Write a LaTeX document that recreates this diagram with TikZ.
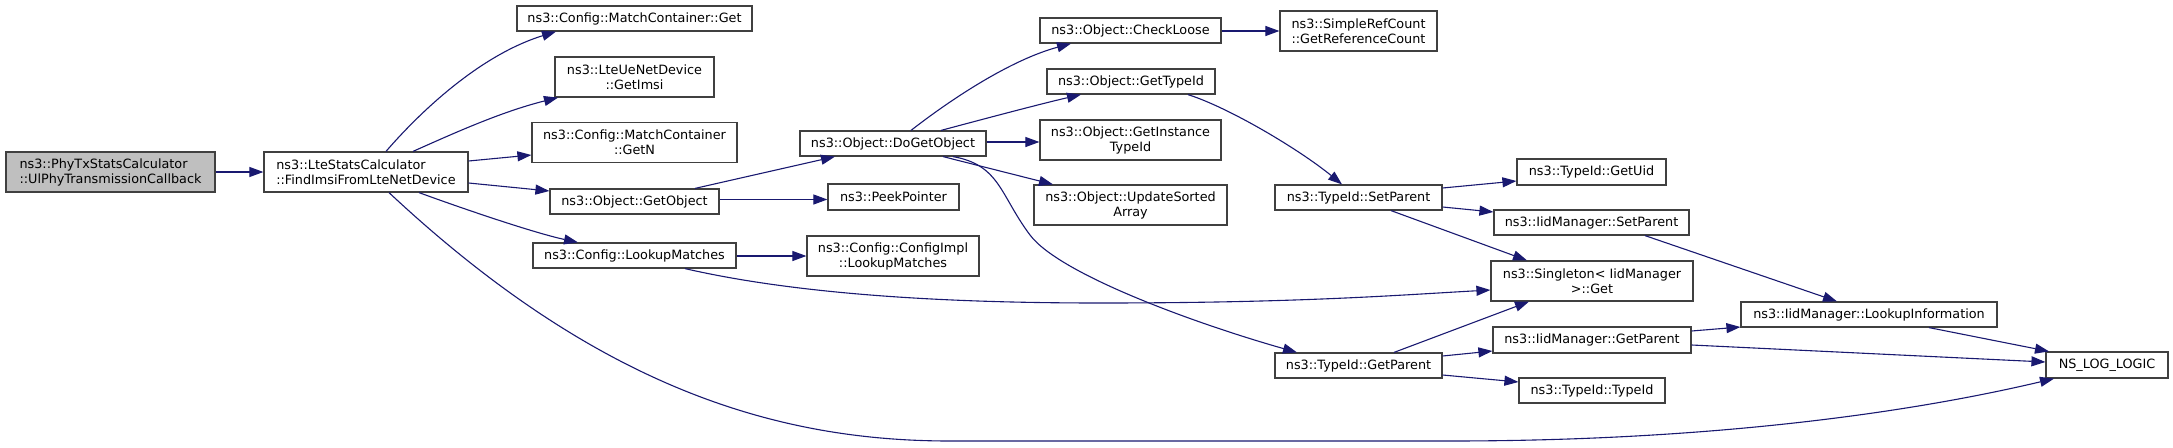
\documentclass[tikz,border=0pt]{standalone}
\usepackage{fontspec}
\setmainfont{DejaVu Sans}
\usetikzlibrary{arrows.meta}
\definecolor{edgecol}{HTML}{191970}
\definecolor{boxline}{HTML}{404040}
\definecolor{rootfill}{HTML}{BFBFBF}
\begin{document}
\begin{tikzpicture}[x=1pt,y=-1pt,
  box/.style={draw=boxline,line width=1.2pt,fill=white,inner sep=0pt,align=center,
    font=\fontsize{12.8}{15}\selectfont},
  rootbox/.style={box,fill=rootfill},
  edge/.style={draw=edgecol,line width=1.1pt,-{Triangle[length=14pt,width=10pt]}}]
\useasboundingbox (0,0) rectangle (2173,447);
% nodes
\node[rootbox,minimum width=209pt,minimum height=40pt,align=left] (root) at (110.5,172) {ns3::PhyTxStatsCalculator\\::UlPhyTransmissionCallback};
\node[box,minimum width=204pt,minimum height=40pt,align=left] (lte) at (366,172) {ns3::LteStatsCalculator\\::FindImsiFromLteNetDevice};
\node[box,minimum width=235pt,minimum height=25pt] (mcget) at (634.5,18.5) {ns3::Config::MatchContainer::Get};
\node[box,minimum width=159pt,minimum height=40pt] (imsi) at (634.5,77) {ns3::LteUeNetDevice\\::GetImsi};
\node[box,minimum width=205pt,minimum height=40pt] (getn) at (634.5,142.5) {ns3::Config::MatchContainer\\::GetN};
\node[box,minimum width=169pt,minimum height=25pt] (getobj) at (634.5,201.5) {ns3::Object::GetObject};
\node[box,minimum width=203pt,minimum height=25pt] (lookup) at (634.5,255.5) {ns3::Config::LookupMatches};
\node[box,minimum width=186pt,minimum height=25pt] (dogo) at (893,143.5) {ns3::Object::DoGetObject};
\node[box,minimum width=131pt,minimum height=26pt] (peek) at (893.5,197) {ns3::PeekPointer};
\node[box,minimum width=172pt,minimum height=40pt] (cimpl) at (893,256) {ns3::Config::ConfigImpl\\::LookupMatches};
\node[box,minimum width=181pt,minimum height=25pt] (check) at (1130.5,30.5) {ns3::Object::CheckLoose};
\node[box,minimum width=168pt,minimum height=25pt] (gtid) at (1131,81.5) {ns3::Object::GetTypeId};
\node[box,minimum width=181pt,minimum height=40pt] (gitid) at (1130.5,140) {ns3::Object::GetInstance\\TypeId};
\node[box,minimum width=193pt,minimum height=40pt] (usa) at (1130.5,205) {ns3::Object::UpdateSorted\\Array};
\node[box,minimum width=157pt,minimum height=40pt] (srefc) at (1358.5,31) {ns3::SimpleRefCount\\::GetReferenceCount};
\node[box,minimum width=167pt,minimum height=25pt] (setp) at (1358.5,197.5) {ns3::TypeId::SetParent};
\node[box,minimum width=167pt,minimum height=25pt] (getp) at (1358.5,365.5) {ns3::TypeId::GetParent};
\node[box,minimum width=149pt,minimum height=26pt] (uid) at (1591.5,172) {ns3::TypeId::GetUid};
\node[box,minimum width=195pt,minimum height=25pt] (isetp) at (1591.5,222.5) {ns3::IidManager::SetParent};
\node[box,minimum width=202pt,minimum height=40pt] (single) at (1592,281) {ns3::Singleton< IidManager\\ >::Get};
\node[box,minimum width=198pt,minimum height=26pt] (igetp) at (1592,340) {ns3::IidManager::GetParent};
\node[box,minimum width=146pt,minimum height=25pt] (tidtid) at (1592,390.5) {ns3::TypeId::TypeId};
\node[box,minimum width=256pt,minimum height=25pt] (lookinfo) at (1869,314.5) {ns3::IidManager::LookupInformation};
\node[box,minimum width=122pt,minimum height=26pt] (nslog) at (2107,365) {NS\_LOG\_LOGIC};
% edges
\draw[edge] (root.east) -- (lte.west);
\draw[edge] (386,0 |- lte.north) .. controls (420,112) and (480,55) .. (556,0 |- mcget.south);
\draw[edge] (413,0 |- lte.north) .. controls (450,135) and (500,112) .. (558,0 |- imsi.south);
\draw[edge] (lte.east |- 0,161) -- (getn.west |- 0,155);
\draw[edge] (lte.east |- 0,183) -- (getobj.west |- 0,191);
\draw[edge] (419,0 |- lte.south) .. controls (450,204) and (530,232) .. (578,0 |- lookup.north);
\draw[edge] (389,0 |- lte.south) .. controls (600,390) and (780,441) .. (950,441) -- (1450,441)
  .. controls (1700,441) and (1900,415) .. (2054,0 |- nslog.south);
\draw[edge] (695,0 |- getobj.north) -- (835,0 |- dogo.south);
\draw[edge] (getobj.east |- 0,199.5) -- (peek.west |- 0,199.5);
\draw[edge] (lookup.east |- 0,256) -- (cimpl.west |- 0,256);
\draw[edge] (685,0 |- lookup.south) .. controls (800,295) and (950,303) .. (1100,303)
  .. controls (1300,303) and (1400,295) .. (single.west |- 0,290);
\draw[edge] (911,0 |- dogo.north) .. controls (950,100) and (1010,60) .. (1071,0 |- check.south);
\draw[edge] (941,0 |- dogo.north) .. controls (980,120) and (1040,104) .. (1081,0 |- gtid.south);
\draw[edge] (dogo.east |- 0,142) -- (gitid.west |- 0,142);
\draw[edge] (943,0 |- dogo.south) -- (1053,0 |- usa.north);
\draw[edge] (953,0 |- dogo.south) .. controls (1000,165) and (1000,195) .. (1030,235)
  .. controls (1060,275) and (1200,325) .. (1297,0 |- getp.north);
\draw[edge] (1188,0 |- gtid.south) .. controls (1230,108) and (1300,150) .. (1342,0 |- setp.north);
\draw[edge] (check.east |- 0,31) -- (srefc.west |- 0,31);
\draw[edge] (setp.east |- 0,188) -- (uid.west |- 0,181);
\draw[edge] (setp.east |- 0,207) -- (isetp.west |- 0,212);
\draw[edge] (1391,0 |- setp.south) -- (1527,0 |- single.north);
\draw[edge] (1394,0 |- getp.north) -- (1529,0 |- single.south);
\draw[edge] (getp.east |- 0,356) -- (igetp.west |- 0,351);
\draw[edge] (getp.east |- 0,375) -- (tidtid.west |- 0,382);
\draw[edge] (1645,0 |- isetp.south) -- (1837,0 |- lookinfo.north);
\draw[edge] (igetp.east |- 0,331) -- (lookinfo.west |- 0,327);
\draw[edge] (igetp.east |- 0,345) -- (nslog.west |- 0,362);
\draw[edge] (1929,0 |- lookinfo.south) -- (2049,0 |- nslog.north);
\end{tikzpicture}
\end{document}
